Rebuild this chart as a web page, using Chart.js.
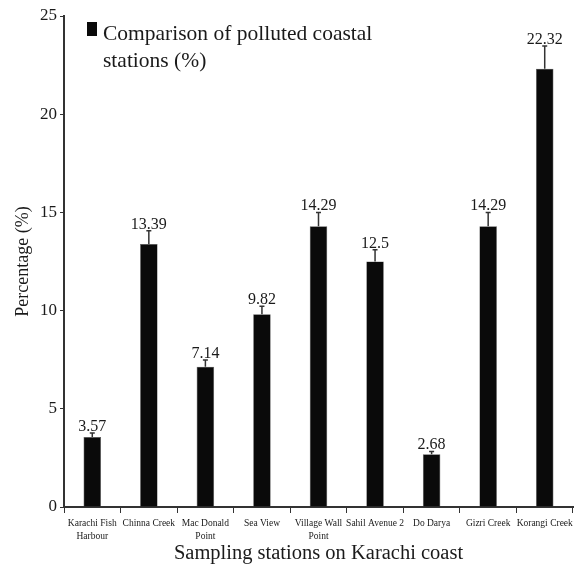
<!DOCTYPE html>
<html>
<head>
<meta charset="utf-8">
<script src="https://cdn.jsdelivr.net/npm/chart.js@4"></script>
<style>
  html, body { margin: 0; padding: 0; background: #fff; }
  #wrap { width: 581px; height: 570px; position: relative; }
</style>
</head>
<body>
<div id="wrap"><canvas id="chart"></canvas></div>
<script>
/* Polluted coastal stations on Karachi coast – bar chart with error bars */

const STATIONS = [
  ["Karachi Fish", "Harbour"],
  "Chinna Creek",
  ["Mac Donald", "Point"],
  "Sea View",
  ["Village Wall", "Point"],
  "Sahil Avenue 2",
  "Do Darya",
  "Gizri Creek",
  "Korangi Creek",
];
const PERCENT = [3.57, 13.39, 7.14, 9.82, 14.29, 12.5, 2.68, 14.29, 22.32];
const ERRORS = [0.2, 0.68, 0.35, 0.4, 0.71, 0.6, 0.15, 0.71, 1.15];
const Y_TICKS = [0, 5, 10, 15, 20, 25];
const SERIES_LABEL = ["Comparison of polluted coastal", "stations (%)"];

const SERIF = "'Liberation Serif', 'DejaVu Serif', serif";
const INK = "#1a1a1a";

// error bars + value labels, positioned through the chart's scales
const errorBars = {
  id: "errorBars",
  afterDatasetsDraw(chart) {
    const { ctx, scales } = chart;
    const meta = chart.getDatasetMeta(0);
    ctx.save();
    ctx.strokeStyle = "#333";
    ctx.lineWidth = 1.5;
    meta.data.forEach((bar, i) => {
      const x = bar.x;
      const top = scales.y.getPixelForValue(PERCENT[i] + ERRORS[i]);
      ctx.beginPath();
      ctx.moveTo(x, bar.y);
      ctx.lineTo(x, top);
      ctx.moveTo(x - 2.5, top);
      ctx.lineTo(x + 2.5, top);
      ctx.stroke();

      ctx.fillStyle = INK;
      ctx.font = "16px " + SERIF;
      ctx.textAlign = "center";
      ctx.textBaseline = "alphabetic";
      ctx.fillText(String(PERCENT[i]), x, top - 2);
    });
    ctx.restore();
  },
};

// two-line legend in the top left corner of the plot
const wrappedLegend = {
  id: "wrappedLegend",
  afterDraw(chart) {
    const { ctx, chartArea } = chart;
    const left = chartArea.left + 23;
    const top = chartArea.top + 6;
    ctx.save();
    ctx.fillStyle = "#0a0a0a";
    ctx.fillRect(left, top, 10, 14);
    ctx.fillStyle = INK;
    ctx.font = "21.5px " + SERIF;
    ctx.textAlign = "left";
    ctx.textBaseline = "alphabetic";
    SERIES_LABEL.forEach((line, k) => {
      ctx.fillText(line, left + 16, top + 18 + k * 27);
    });
    ctx.restore();
  },
};

new Chart(document.getElementById("chart"), {
  type: "bar",
  data: {
    labels: STATIONS,
    datasets: [
      {
        label: SERIES_LABEL.join(" "),
        data: PERCENT,
        backgroundColor: "#0a0a0a",
        borderColor: "#555",
        borderWidth: 0.6,
        barPercentage: 0.31,
        categoryPercentage: 1,
      },
    ],
  },
  options: {
    responsive: true,
    maintainAspectRatio: false,
    animation: false,
    layout: { padding: { top: 16, right: 8, left: 0, bottom: 0 } },
    scales: {
      y: {
        min: 0,
        max: 25,
        afterBuildTicks: (scale) => {
          scale.ticks = Y_TICKS.map((v) => ({ value: v }));
        },
        afterFit: (scale) => {
          scale.width = 64;
        },
        border: { color: "#333", width: 2 },
        grid: { drawOnChartArea: false, drawTicks: true, tickLength: 4, color: "#333" },
        ticks: {
          color: INK,
          font: { family: SERIF, size: 17 },
          padding: 3,
        },
        title: {
          display: true,
          text: "Percentage (%)",
          color: INK,
          font: { family: SERIF, size: 18 },
          padding: { top: 12, bottom: 0 },
        },
      },
      x: {
        afterFit: (scale) => {
          scale.height = 63;
        },
        border: { color: "#333", width: 2 },
        grid: { offset: true, drawOnChartArea: false, drawTicks: true, tickLength: 6, color: "#333" },
        ticks: {
          color: INK,
          font: { family: SERIF, size: 9.5, lineHeight: 1.35 },
          maxRotation: 0,
          autoSkip: false,
          padding: 4,
        },
        title: {
          display: true,
          text: "Sampling stations on Karachi coast",
          color: INK,
          font: { family: SERIF, size: 20.5 },
          padding: { top: 0, bottom: 4 },
        },
      },
    },
    plugins: {
      legend: { display: false },
      tooltip: { enabled: false },
    },
  },
  plugins: [errorBars, wrappedLegend],
});
</script>
</body>
</html>
